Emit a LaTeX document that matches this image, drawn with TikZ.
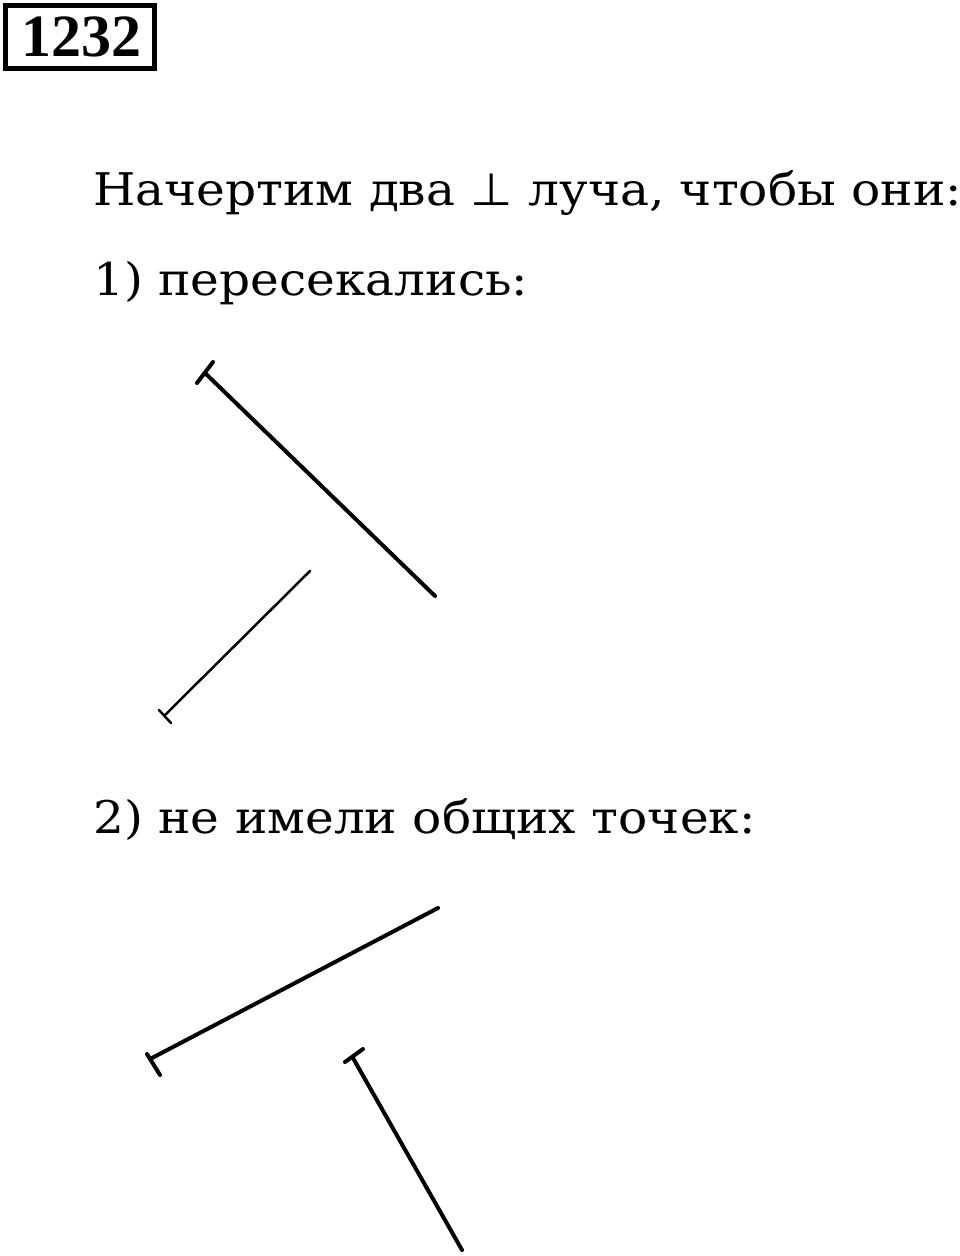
\documentclass[tikz,border=0pt]{standalone}
\usepackage{fontspec}
\setmainfont[FakeStretch=1.08]{DejaVu Serif}
\newfontfamily\symfont[FakeStretch=1.08]{DejaVu Sans}
\newfontfamily\numfont{Liberation Serif}
\begin{document}
\begin{tikzpicture}[x=1pt,y=-1pt,
  txt/.style={anchor=base west,inner sep=0pt,font=\fontsize{45}{54}\selectfont},
  ray/.style={line width=4pt,line cap=round},
  thinray/.style={line width=2.5pt,line cap=round},
  bar/.style={line width=4pt,line cap=round}]
\useasboundingbox[fill=white] (0,0) rectangle (960,1256);
% number box
\draw[line width=5pt] (5.5,5.5) rectangle (154.5,68.5);
\node[inner sep=0pt,font=\numfont\fontsize{60}{70}\bfseries\selectfont] (num) at (81,37) {1232};
% texts
\node[txt] (t1) at (93,205) {Начертим два {\symfont ⊥} луча, чтобы они:};
\node[txt] (t2) at (93,295) {1) пересекались:};
\node[txt] (t3) at (93,833) {2) не имели общих точек:};
% part 1
\coordinate (a0) at (205,373); \coordinate (a1) at (435,596);
\coordinate (ab1) at (197,383); \coordinate (ab2) at (213,362);
\coordinate (b0) at (165,715); \coordinate (b1) at (310,571);
\coordinate (bb1) at (159,710); \coordinate (bb2) at (171,723);
\draw[ray] (a0) -- (a1);
\draw[bar] (ab1) -- (ab2);
\draw[thinray] (b0) -- (b1);
\draw[thinray] (bb1) -- (bb2);
% part 2
\coordinate (c0) at (152,1058); \coordinate (c1) at (438,908);
\coordinate (cb1) at (147,1054); \coordinate (cb2) at (160,1075);
\coordinate (d0) at (353,1058); \coordinate (d1) at (462,1250);
\coordinate (db1) at (345,1062); \coordinate (db2) at (363,1049);
\draw[ray] (c0) -- (c1);
\draw[bar] (cb1) -- (cb2);
\draw[ray] (d0) -- (d1);
\draw[bar] (db1) -- (db2);
\end{tikzpicture}
\end{document}
